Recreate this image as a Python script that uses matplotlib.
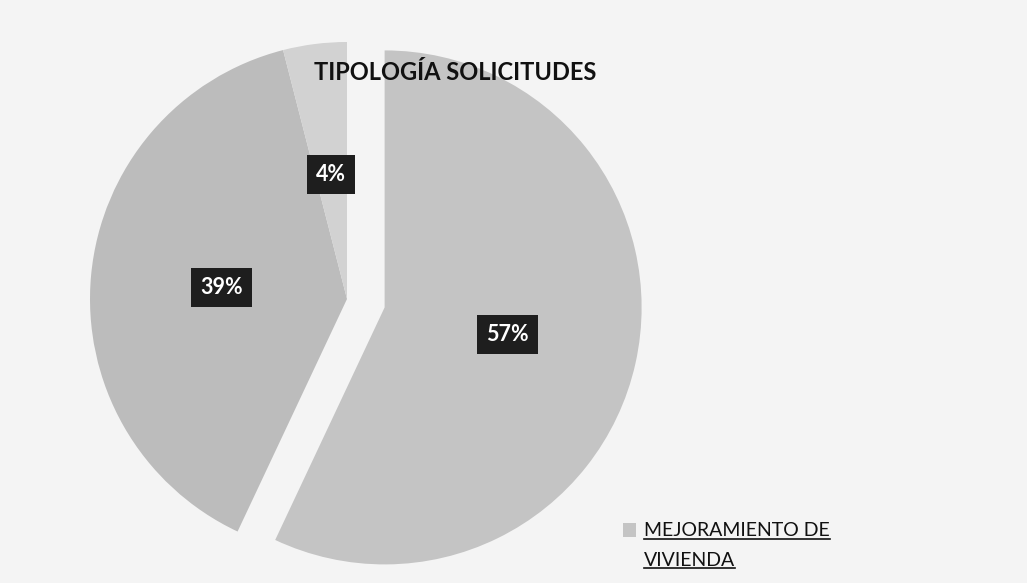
import matplotlib.pyplot as plt
from matplotlib.lines import Line2D

# Data
shares = [57, 39, 4]
legend_lines = ["MEJORAMIENTO DE", "VIVIENDA"]
title = "TIPOLOGÍA SOLICITUDES"

slice_colors = ["#c4c4c4", "#bcbcbc", "#d2d2d2"]
explode_frac = [0.15, 0, 0]

W, H = 1027, 583
R = 257
fig = plt.figure(figsize=(W / 100, H / 100), dpi=100)
fig.patch.set_facecolor("#f4f4f4")
ax = fig.add_axes([0, 0, 1, 1])
ax.set_facecolor("#f4f4f4")

# pie explode is in absolute units, scale by the radius
wedges, _, autotexts = ax.pie(
    shares,
    explode=[e * R for e in explode_frac],
    colors=slice_colors,
    startangle=90,
    counterclock=False,
    center=(347, H - 299),
    radius=R,
    autopct="%1.0f%%",
    pctdistance=0.49,
    textprops=dict(family="Lato", weight="bold", size=15.5, color="white"),
    wedgeprops=dict(linewidth=0),
)
for t in autotexts:
    t.set_bbox(dict(boxstyle="square,pad=0.42", fc="#1e1e1e", ec="none"))

ax.set_xlim(0, W)
ax.set_ylim(0, H)
ax.set_aspect("equal")
ax.axis("off")

ax.text(455, H - 73, title, ha="center", va="center",
        family="Lato", weight="bold", size=17, color="#111111")

leg = ax.legend([wedges[0]], [legend_lines[0]], loc="upper left",
                bbox_to_anchor=(605 / W, 1 - 505 / H), frameon=False,
                prop=dict(family="Lato", size=14), handlelength=0.7,
                handleheight=0.7, handletextpad=0.4)
leg.get_texts()[0].set_color("#111111")

fig.canvas.draw()
r = fig.canvas.get_renderer()
inv = ax.transData.inverted()

# second legend line sits under the first
bb = leg.get_texts()[0].get_window_extent(r)
(lx0, ly0), _ = inv.transform([(bb.x0, bb.y0), (bb.x1, bb.y1)])
line2 = ax.text(lx0, ly0 - 30 + 4, legend_lines[1], ha="left", va="baseline",
                family="Lato", size=14, color="#111111")
fig.canvas.draw()

# underlines
for t in autotexts:
    bb = t.get_window_extent(r)
    (x0, y0), (x1, y1) = inv.transform([(bb.x0, bb.y0), (bb.x1, bb.y1)])
    ax.add_line(Line2D([x0, x1], [y0 - 0.5, y0 - 0.5], color="white", lw=1.5))
for t in [leg.get_texts()[0], line2]:
    bb = t.get_window_extent(r)
    (x0, y0), (x1, y1) = inv.transform([(bb.x0, bb.y0), (bb.x1, bb.y1)])
    ax.add_line(Line2D([x0, x1], [y0 + 1, y0 + 1], color="#111111", lw=1.2))

fig.savefig("out.png", dpi=100, facecolor=fig.get_facecolor())
